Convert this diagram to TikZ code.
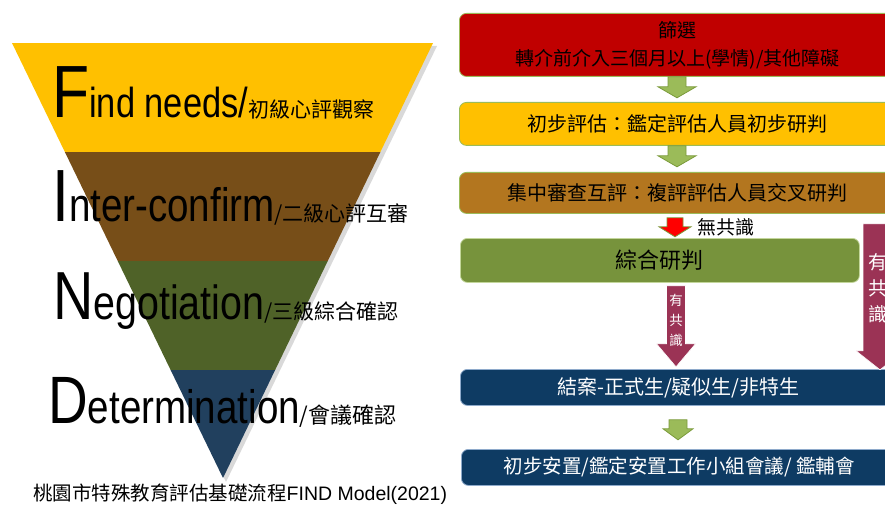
\documentclass[tikz,border=0pt]{standalone}
\usepackage{fontspec}
\setmainfont{Liberation Sans}
\newfontfamily\cjk{Noto Sans CJK TC}
\newfontfamily\narrowsans[FakeStretch=0.82]{Liberation Sans}
\usetikzlibrary{calc}
\definecolor{findyellow}{HTML}{FFC000}
\definecolor{findbrown}{HTML}{774E18}
\definecolor{findgreen}{HTML}{4F6228}
\definecolor{findblue}{HTML}{21405E}
\definecolor{screenred}{HTML}{C00000}
\definecolor{reviewbrown}{HTML}{B3761F}
\definecolor{synthgreen}{HTML}{77933C}
\definecolor{closeblue}{HTML}{0E3B63}
\definecolor{agreemaroon}{HTML}{9B3355}
\definecolor{arrowgreen}{HTML}{9BBB59}
\definecolor{arrowedge}{HTML}{7A9A3A}
\definecolor{boxedge}{HTML}{9BBB59}
\definecolor{blueedge}{HTML}{8EAACB}

\begin{document}
\begin{tikzpicture}[x=1pt,y=-1pt,
  flowbox/.style={draw=#1, line width=.8pt, rounded corners=7pt, anchor=north west,
    inner sep=0pt, align=center, minimum width=436, font=\cjk\fontsize{20}{28}\selectfont},
  vlabel/.style={text=white, align=center, inner sep=0pt},
  pics/downarrow/.style args={#1/#2/#3/#4}{code={
    \path[pic actions] (-#2,0) -- (#2,0) -- (#2,#1-#4) -- (#3,#1-#4) -- (0,#1)
      -- (-#3,#1-#4) -- (-#2,#1-#4) -- cycle;}}]
\useasboundingbox (0,0) rectangle (885,505);

% FIND funnel
\fill[black,opacity=.15] (15,46) -- (437,46) -- (226,482) -- cycle;
\begin{scope}
\clip (12,43) -- (433,43) -- (223,478) -- cycle;
\fill[findyellow] (0,43) rectangle (450,152);
\fill[findbrown] (0,152) rectangle (450,261);
\fill[findgreen] (0,261) rectangle (450,370);
\fill[findblue] (0,370) rectangle (450,480);
\end{scope}
\node[anchor=base west,inner sep=0] (find) at (52,118) {\narrowsans\fontsize{74}{74}\selectfont F\fontsize{42}{42}\selectfont ind needs/\cjk\fontsize{21}{21}\selectfont 初級心評觀察};
\node[anchor=base west,inner sep=0] (inter) at (52,221) {\narrowsans\fontsize{74}{74}\selectfont I\fontsize{47}{47}\selectfont nter-confirm\cjk\fontsize{21}{21}\selectfont /二級心評互審};
\node[anchor=base west,inner sep=0] (nego) at (53,319) {\narrowsans\fontsize{68}{68}\selectfont N\fontsize{48}{48}\selectfont egotiation\cjk\fontsize{21}{21}\selectfont /三級綜合確認};
\node[anchor=base west,inner sep=0] (deter) at (48,423) {\narrowsans\fontsize{67}{67}\selectfont D\fontsize{47}{47}\selectfont etermination\cjk\fontsize{22}{22}\selectfont /會議確認};
\node[anchor=base west,inner sep=0] (caption) at (33,500) {\cjk\fontsize{19.5}{20}\selectfont 桃園市特殊教育評估基礎流程\rmfamily FIND Model(2021)};

% flow
\node[flowbox=boxedge, fill=screenred, minimum height=63, font=\cjk\fontsize{19}{28}\selectfont] (screen) at (459,13) {篩選\\轉介前介入三個月以上(學情)/其他障礙};
\node[flowbox=boxedge, fill=findyellow, minimum height=43] (prelim) at (459,102) {初步評估：鑑定評估人員初步研判};
\node[flowbox=boxedge, fill=reviewbrown, minimum height=41] (review) at (459,172) {集中審查互評：複評評估人員交叉研判};
\node[flowbox=boxedge!60!white, fill=synthgreen, minimum width=399, minimum height=44, font=\cjk\fontsize{22}{22}\selectfont] (synth) at (460,238) {綜合研判};
\node[flowbox=blueedge, fill=closeblue, text=white, minimum height=36] (close) at (460,369) {結案-正式生/疑似生/非特生};
\node[flowbox=blueedge, fill=closeblue, text=white, minimum height=36, font=\cjk\fontsize{19.5}{20}\selectfont] (place) at (461,449) {初步安置/鑑定安置工作小組會議/ 鑑輔會};

\coordinate (axis) at (677,0);
\coordinate (rightaxis) at (880,0);
\pic[fill=arrowgreen, draw=arrowedge, line width=.8pt] at (screen.south -| axis) {downarrow=21/9/19/11};
\pic[fill=arrowgreen, draw=arrowedge, line width=.8pt] at (prelim.south -| axis) {downarrow=21/9/19/11};
\pic[fill=red, draw=arrowedge, line width=.8pt] at ($(review.south -| axis)+(-2,4)$) {downarrow=19/8/16/10};
\node[anchor=west, inner sep=0, font=\cjk\fontsize{19}{19}\selectfont] (nocons) at (697,227) {無共識};
\pic[fill=agreemaroon, draw=white, line width=.6pt] at ($(synth.south -| axis)+(-1,3)$) {downarrow=81/9.5/19.5/23};
\node[vlabel, font=\cjk\fontsize{13.5}{20}\selectfont] (cons) at (676,320) {有\\共\\識};
\pic[fill=agreemaroon, draw=white, line width=.6pt] at ($(review.south -| rightaxis)+(0,10)$) {downarrow=146/17/24/19};
\node[vlabel, font=\cjk\fontsize{19}{26}\selectfont] (consright) at (878,288) {有\\共\\識};
\pic[fill=arrowgreen, draw=arrowedge, line width=.8pt] at ($(close.south -| axis)+(1,14)$) {downarrow=20/9/15/11};
\end{tikzpicture}
\end{document}
